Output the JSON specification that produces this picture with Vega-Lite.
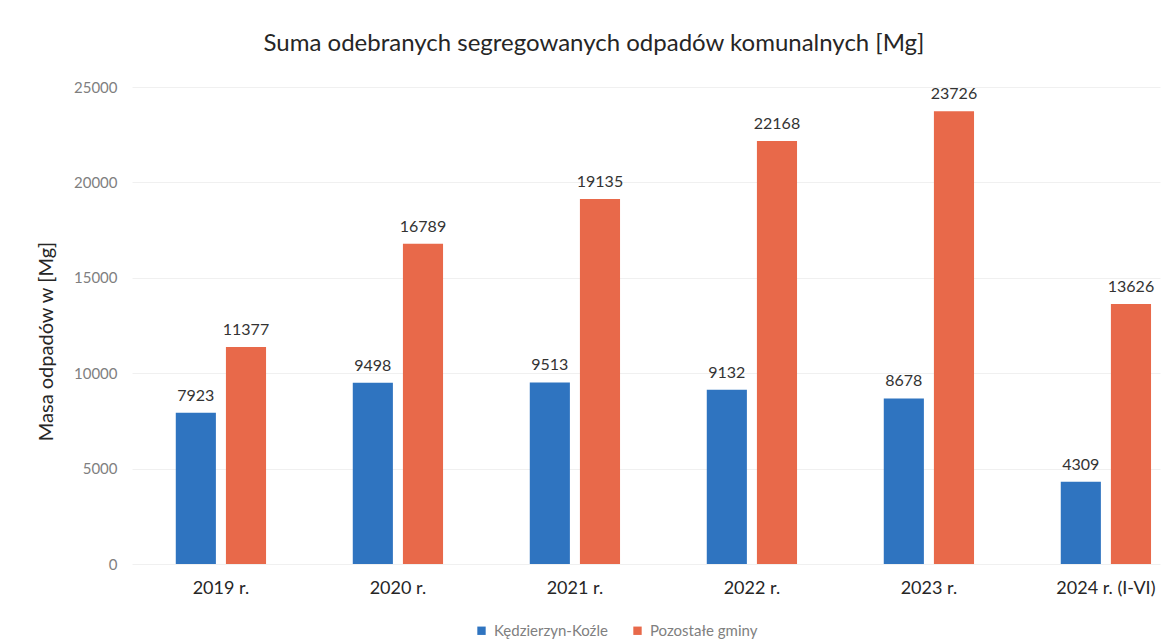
{
  "$schema": "https://vega.github.io/schema/vega-lite/v6.json",
  "width": 1028,
  "height": 477,
  "autosize": {"type": "none"},
  "padding": {"left": 132, "top": 87, "right": 2, "bottom": 75},
  "background": "white",
  "title": {
    "text": "Suma odebranych segregowanych odpadów komunalnych [Mg]",
    "font": "Lato",
    "fontSize": 24,
    "fontWeight": "normal",
    "color": "#262626",
    "anchor": "middle",
    "dx": -52,
    "offset": 24
  },
  "data": {
    "values": [
      {"rok": "2019 r.", "seria": "Kędzierzyn-Koźle", "masa": 7923},
      {"rok": "2019 r.", "seria": "Pozostałe gminy", "masa": 11377},
      {"rok": "2020 r.", "seria": "Kędzierzyn-Koźle", "masa": 9498},
      {"rok": "2020 r.", "seria": "Pozostałe gminy", "masa": 16789},
      {"rok": "2021 r.", "seria": "Kędzierzyn-Koźle", "masa": 9513},
      {"rok": "2021 r.", "seria": "Pozostałe gminy", "masa": 19135},
      {"rok": "2022 r.", "seria": "Kędzierzyn-Koźle", "masa": 9132},
      {"rok": "2022 r.", "seria": "Pozostałe gminy", "masa": 22168},
      {"rok": "2023 r.", "seria": "Kędzierzyn-Koźle", "masa": 8678},
      {"rok": "2023 r.", "seria": "Pozostałe gminy", "masa": 23726},
      {"rok": "2024 r. (I-VI)", "seria": "Kędzierzyn-Koźle", "masa": 4309},
      {"rok": "2024 r. (I-VI)", "seria": "Pozostałe gminy", "masa": 13626}
    ]
  },
  "encoding": {
    "x": {
      "field": "rok",
      "type": "nominal",
      "sort": null,
      "scale": {"paddingInner": 0.49, "paddingOuter": 0.149, "align": 0.83},
      "axis": {
        "title": null,
        "labelAngle": 0,
        "labelFont": "Lato",
        "labelFontSize": 18,
        "labelColor": "#262626",
        "labelPadding": 15,
        "domain": false,
        "ticks": false,
        "grid": false
      }
    },
    "xOffset": {
      "field": "seria",
      "type": "nominal",
      "sort": ["Kędzierzyn-Koźle", "Pozostałe gminy"],
      "scale": {"paddingInner": 0.2, "paddingOuter": 0}
    },
    "y": {
      "field": "masa",
      "type": "quantitative",
      "scale": {"domain": [0, 25000], "nice": false},
      "axis": {
        "title": "Masa odpadów w [Mg]",
        "titleFont": "Lato",
        "titleFontSize": 20,
        "titleFontWeight": "normal",
        "titleColor": "#262626",
        "titlePadding": 17,
        "titleY": 254,
        "values": [0, 5000, 10000, 15000, 20000, 25000],
        "format": "d",
        "labelFont": "Lato",
        "labelFontSize": 15,
        "labelColor": "#7f7f7f",
        "labelPadding": 15,
        "domain": false,
        "ticks": false,
        "grid": true,
        "gridColor": "#f0f0f0",
        "gridWidth": 1
      }
    }
  },
  "layer": [
    {
      "mark": {"type": "bar"},
      "encoding": {
        "color": {
          "field": "seria",
          "type": "nominal",
          "scale": {
            "domain": ["Kędzierzyn-Koźle", "Pozostałe gminy"],
            "range": ["#2f74c0", "#e8694a"]
          },
          "legend": {
            "title": null,
            "orient": "none",
            "direction": "horizontal",
            "legendX": 342,
            "legendY": 536,
            "symbolType": "square",
            "symbolSize": 70,
            "symbolStrokeWidth": 0,
            "labelFont": "Lato",
            "labelFontSize": 15,
            "labelColor": "#808080",
            "columnPadding": 22,
            "labelOffset": 5
          }
        }
      }
    },
    {
      "mark": {
        "type": "text",
        "baseline": "bottom",
        "dy": -9,
        "font": "Lato",
        "fontSize": 16,
        "color": "#333333"
      },
      "encoding": {
        "text": {"field": "masa", "type": "quantitative", "format": "d"}
      }
    }
  ],
  "config": {"view": {"stroke": null}}
}
